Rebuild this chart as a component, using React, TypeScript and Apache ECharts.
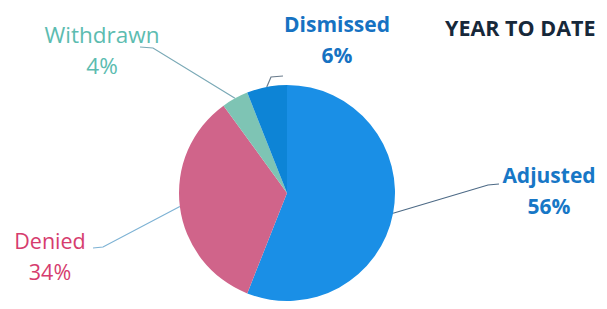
import React, { useEffect, useRef } from "react";
import * as echarts from "echarts";

const categories = ["Adjusted", "Denied", "Withdrawn", "Dismissed"];
const values = [56, 34, 4, 6];
const sliceColors = ["#1a8fe6", "#d0648a", "#7ec4b4", "#0d84d6"];
const labelColors = ["#1777c6", "#d63c6e", "#5cbcb0", "#1672c2"];
const lineColors = ["#4d6a86", "#7db2d4", "#7aa9b6", "#6a7c8c"];
const labelWeights = ["bold", "normal", "normal", "bold"];
const labelSizes = [21, 21.5, 22.5, 21];
const titleText = "YEAR TO DATE";

// label text block centres and guide-line elbow points (layout only)
const labelPos: [number, number][] = [
  [549, 190],
  [50, 256],
  [102, 50],
  [337, 39],
];
const elbows: [number, number][][] = [
  [
    [488, 185],
    [499, 184],
  ],
  [
    [103, 247],
    [93, 248],
  ],
  [
    [153, 48],
    [140, 47],
  ],
  [
    [271, 77],
    [283, 76],
  ],
];

export default function App() {
  const ref = useRef<HTMLDivElement>(null);
  useEffect(() => {
    if (!ref.current) return;
    const chart = echarts.init(ref.current, undefined, { renderer: "svg" });
    const font = "'Open Sans', 'Noto Sans', sans-serif";
    chart.setOption({
      animation: false,
      backgroundColor: "#ffffff",
      title: {
        text: titleText,
        left: 440,
        top: 11,
        textStyle: {
          fontFamily: font,
          fontSize: 21.5,
          fontWeight: "bold",
          color: "#17283a",
        },
      },
      series: [
        {
          type: "pie",
          center: [287, 193],
          radius: 108,
          startAngle: 90,
          clockwise: true,
          label: {
            show: true,
            position: "outside",
            fontFamily: font,
            fontSize: 21,
            lineHeight: 31,
            align: "center",
            formatter: "{b}\n{d}%",
          },
          labelLine: { show: true, length: 20, length2: 10, lineStyle: { width: 1.2 } },
          labelLayout: (params: any) => {
            const i = params.dataIndex;
            const pts = params.labelLinePoints;
            const p0 = pts ? pts[0] : elbows[i][0];
            return {
              x: labelPos[i][0],
              y: labelPos[i][1],
              align: "center",
              verticalAlign: "middle",
              labelLinePoints: [p0, elbows[i][0], elbows[i][1]],
            };
          },
          data: categories.map((name, i) => ({
            name,
            value: values[i],
            itemStyle: { color: sliceColors[i] },
            label: {
              color: labelColors[i],
              fontWeight: labelWeights[i],
              fontSize: labelSizes[i],
            },
            labelLine: { lineStyle: { color: lineColors[i], width: 1.2 } },
          })),
        },
      ],
    });
    return () => chart.dispose();
  }, []);
  return (
    <div
      ref={ref}
      style={{ position: "fixed", left: 0, top: 0, width: 607, height: 309 }}
    />
  );
}
